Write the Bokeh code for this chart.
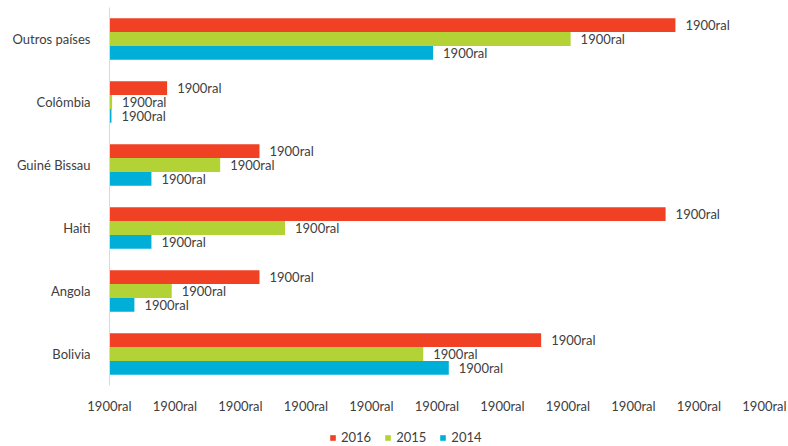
from bokeh.plotting import figure
from bokeh.layouts import column
from bokeh.models import ColumnDataSource, FactorRange, Legend, LegendItem, Range1d
from bokeh.transform import dodge
from bokeh.core.properties import value
from bokeh.embed import file_html
from bokeh.resources import INLINE

categories = ["Outros países", "Colômbia", "Guiné Bissau", "Haiti", "Angola", "Bolivia"]
years = ["2016", "2015", "2014"]
v2016 = [8.64, 0.88, 2.29, 8.49, 2.29, 6.59]
v2015 = [7.04, 0.04, 1.69, 2.68, 0.95, 4.79]
v2014 = [4.94, 0.03, 0.64, 0.64, 0.38, 5.18]
bar_labels = ["1900ral"] * 6
tick_values = [0, 1, 2, 3, 4, 5, 6, 7, 8, 9, 10]
tick_labels = ["1900ral"] * 11
colors = ["#F04124", "#B2D235", "#00AFD8"]

FONT = "Lato"
TXT = "#404040"

src = ColumnDataSource(dict(cat=categories, v2016=v2016, v2015=v2015, v2014=v2014, lab=bar_labels))

p = figure(width=788, height=416, output_backend="svg", toolbar_location=None,
           y_range=FactorRange(*list(reversed(categories)), range_padding=0),
           x_range=Range1d(0, 10),
           min_border_left=109, min_border_right=24, min_border_top=7, min_border_bottom=29)
p.outline_line_color = None
p.xgrid.grid_line_color = None
p.ygrid.grid_line_color = None

offsets = [0.22, 0.0, -0.22]
for yr, col, off in zip(years, colors, offsets):
    p.hbar(y=dodge("cat", off, range=p.y_range), right="v" + yr, left=0, height=0.22,
           source=src, fill_color=col, line_color=None)
    p.text(x="v" + yr, y=dodge("cat", off, range=p.y_range), text="lab", source=src,
           x_offset=10, text_align="left", text_baseline="middle",
           text_font=value(FONT), text_font_size="13px", text_color=TXT)

p.xaxis.ticker = tick_values
p.xaxis.major_label_overrides = {t: l for t, l in zip(tick_values, tick_labels)}
p.xaxis.axis_line_color = None
p.xaxis.major_tick_line_color = None
p.xaxis.minor_tick_line_color = None
p.xaxis.major_label_standoff = 6
p.xaxis.major_label_text_font = FONT
p.xaxis.major_label_text_font_size = "13px"
p.xaxis.major_label_text_color = TXT

p.yaxis.axis_line_color = "#D9D9D9"
p.yaxis.major_tick_line_color = None
p.yaxis.minor_tick_line_color = None
p.yaxis.major_label_standoff = 13
p.yaxis.major_label_text_font = FONT
p.yaxis.major_label_text_font_size = "13px"
p.yaxis.major_label_text_color = TXT

# legend strip below the chart (its frame is aligned with the chart's frame)
lg = figure(width=788, height=30, output_backend="svg", toolbar_location=None,
            x_range=Range1d(0, 1), y_range=Range1d(0, 1),
            min_border=0, min_border_left=0, min_border_right=0,
            min_border_top=0, min_border_bottom=0)
lg.axis.visible = False
lg.grid.visible = False
lg.outline_line_color = None
hidden = ColumnDataSource(dict(y=[-10], right=[0.5]))
leg_renderers = []
for col in colors:
    r = lg.hbar(y="y", right="right", left=0, height=0.5, source=hidden,
                fill_color=col, line_color=None)
    leg_renderers.append(r)

legend = Legend(items=[LegendItem(label=y, renderers=[r]) for y, r in zip(years, leg_renderers)],
                orientation="horizontal", location=(220, 1),
                glyph_width=7, glyph_height=7, label_height=14, label_standoff=5, spacing=13,
                label_text_font=FONT, label_text_font_size="13px", label_text_color=TXT,
                border_line_color=None, background_fill_alpha=0, padding=0, margin=0)
lg.add_layout(legend, "center")

layout = column(p, lg, spacing=0)
open("out.html", "w").write(file_html(layout, INLINE))
